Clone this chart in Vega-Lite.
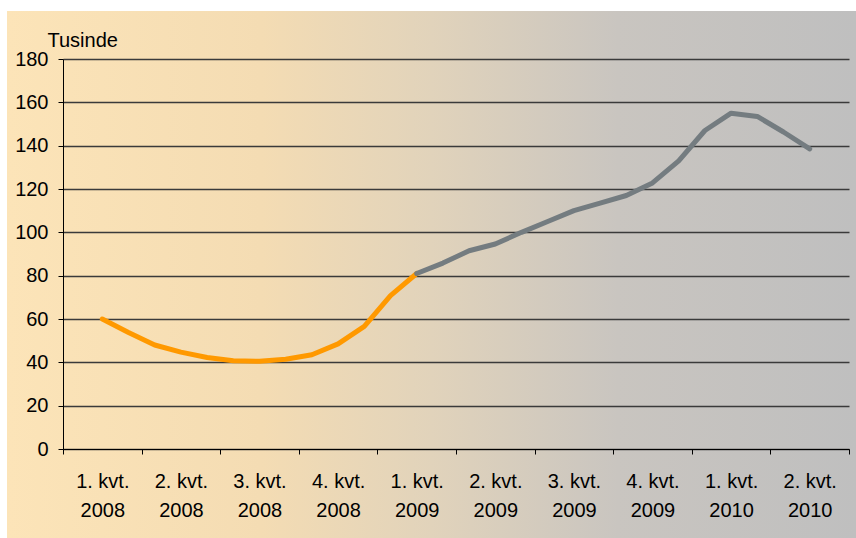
{
  "$schema": "https://vega.github.io/schema/vega-lite/v6.json",
  "width": 849,
  "height": 527,
  "autosize": "none",
  "padding": {"left": 7, "top": 11, "right": 0, "bottom": 0},
  "background": "white",
  "view": {
    "stroke": null,
    "fill": {
      "gradient": "linear",
      "x1": 0, "y1": 0, "x2": 1, "y2": 0,
      "stops": [
        {"offset": 0, "color": "#FCE4B8"},
        {"offset": 0.3, "color": "#F4DCB3"},
        {"offset": 0.5, "color": "#E1D3BB"},
        {"offset": 0.72, "color": "#C9C5C0"},
        {"offset": 1, "color": "#BFBFBF"}
      ]
    }
  },
  "config": {"font": "Liberation Sans"},
  "data": {
    "values": [
      {"m": 0, "v": 60, "s": "a"},
      {"m": 1, "v": 53.8, "s": "a"},
      {"m": 2, "v": 48, "s": "a"},
      {"m": 3, "v": 44.7, "s": "a"},
      {"m": 4, "v": 42.2, "s": "a"},
      {"m": 5, "v": 40.7, "s": "a"},
      {"m": 6, "v": 40.5, "s": "a"},
      {"m": 7, "v": 41.4, "s": "a"},
      {"m": 8, "v": 43.5, "s": "a"},
      {"m": 9, "v": 48.5, "s": "a"},
      {"m": 10, "v": 56.6, "s": "a"},
      {"m": 11, "v": 70.8, "s": "a"},
      {"m": 12, "v": 81, "s": "a"},
      {"m": 12, "v": 81, "s": "b"},
      {"m": 13, "v": 85.8, "s": "b"},
      {"m": 14, "v": 91.5, "s": "b"},
      {"m": 15, "v": 94.6, "s": "b"},
      {"m": 16, "v": 100, "s": "b"},
      {"m": 17, "v": 105, "s": "b"},
      {"m": 18, "v": 110, "s": "b"},
      {"m": 19, "v": 113.5, "s": "b"},
      {"m": 20, "v": 117, "s": "b"},
      {"m": 21, "v": 122.8, "s": "b"},
      {"m": 22, "v": 133, "s": "b"},
      {"m": 23, "v": 147, "s": "b"},
      {"m": 24, "v": 155, "s": "b"},
      {"m": 25, "v": 153.5, "s": "b"},
      {"m": 26, "v": 146.3, "s": "b"},
      {"m": 27, "v": 138.5, "s": "b"}
    ]
  },
  "mark": {"type": "line", "strokeWidth": 5, "strokeCap": "round", "strokeJoin": "round"},
  "encoding": {
    "x": {
      "field": "m",
      "type": "quantitative",
      "scale": {"domain": [-1.5, 28.5], "range": [56, 842], "nice": false, "zero": false},
      "axis": {
        "title": null,
        "offset": -89,
        "values": [-1.5, 0, 1.5, 3, 4.5, 6, 7.5, 9, 10.5, 12, 13.5, 15, 16.5, 18, 19.5, 21, 22.5, 24, 25.5, 27, 28.5],
        "grid": false,
        "domainColor": "black",
        "domainWidth": 1,
        "tickColor": "black",
        "tickSize": 5,
        "tickWidth": 1,
        "tickOpacity": {"condition": {"test": "datum.value % 3 === 0", "value": 0}, "value": 1},
        "labelExpr": "datum.value % 3 === 0 ? [(datum.value / 3 % 4 + 1) + '. kvt.', '' + (2008 + floor(datum.value / 12))] : ''",
        "labelFontSize": 20,
        "labelFont": "Liberation Sans",
        "labelColor": "black",
        "labelBaseline": "alphabetic",
        "labelPadding": 33,
        "labelLineHeight": 29.5,
        "labelOverlap": false,
        "labelFlush": false,
        "labelBound": false
      }
    },
    "y": {
      "field": "v",
      "type": "quantitative",
      "scale": {"domain": [0, 180], "range": [438, 48], "nice": false, "zero": true},
      "axis": {
        "offset": -56,
        "title": "Tusinde",
        "titleAngle": 0,
        "titleX": -16,
        "titleY": 35.5,
        "titleAlign": "left",
        "titleBaseline": "alphabetic",
        "titleFont": "Liberation Sans",
        "titleFontSize": 20,
        "titleFontWeight": "normal",
        "titleColor": "black",
        "values": [0, 20, 40, 60, 80, 100, 120, 140, 160, 180],
        "grid": true,
        "gridColor": "#3a3a3a",
        "gridWidth": 1.3,
        "domainColor": "black",
        "domainWidth": 1,
        "tickColor": "black",
        "tickSize": 5,
        "labelFontSize": 20,
        "labelFont": "Liberation Sans",
        "labelColor": "black",
        "labelPadding": 10,
        "labelOverlap": false,
        "labelFlush": false
      }
    },
    "color": {
      "field": "s",
      "type": "nominal",
      "scale": {"domain": ["a", "b"], "range": ["#FF9900", "#747C80"]},
      "legend": null
    }
  }
}
